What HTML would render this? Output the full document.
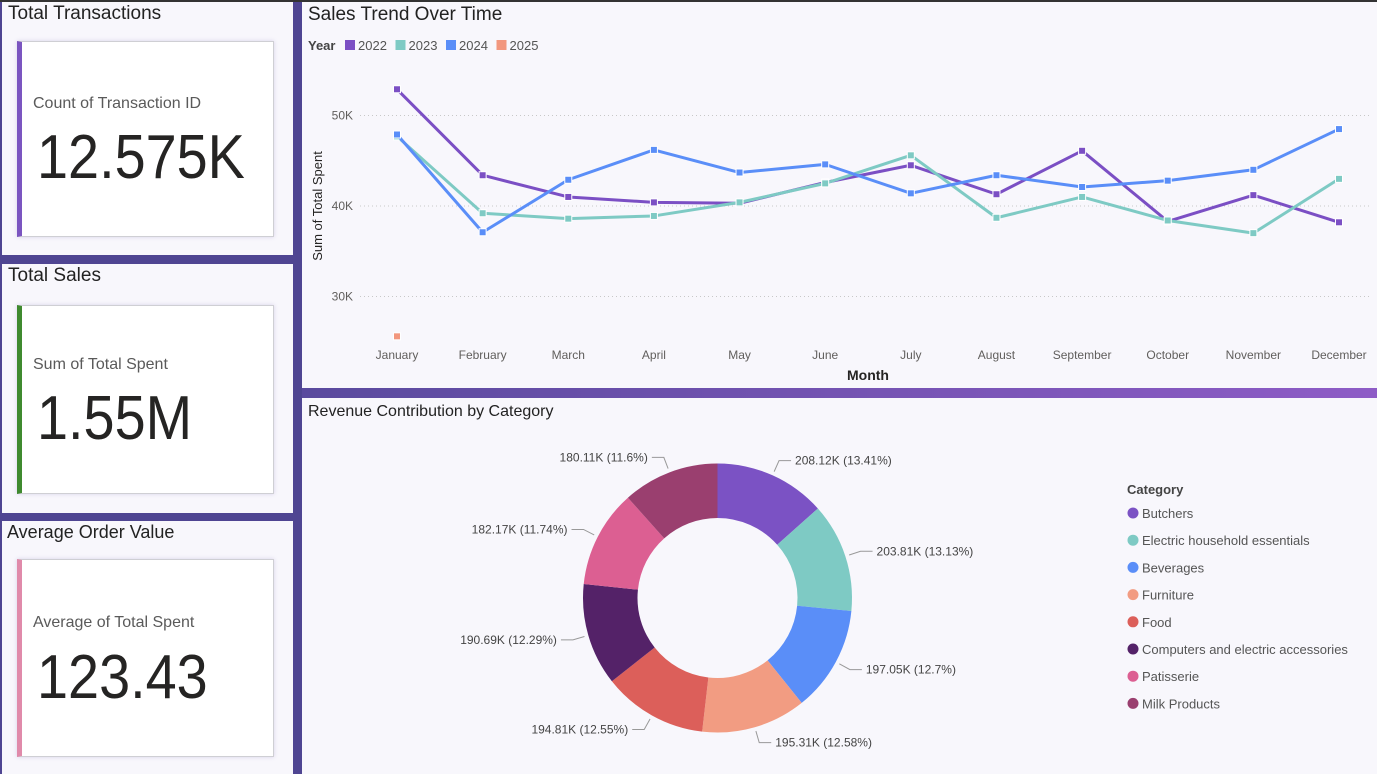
<!DOCTYPE html>
<html><head><meta charset="utf-8"><style>
*{margin:0;padding:0;box-sizing:border-box}
body{width:1377px;height:774px;background:#4f4592;position:relative;overflow:hidden;font-family:"Liberation Sans",sans-serif}
.panel{position:absolute;background:#f8f7fc}
.ptitle{position:absolute;left:7px;top:2px;font-size:19px;color:#222}
.card{position:absolute;left:17px;width:257px;background:#fff;border:1px solid #cfcfd4;box-shadow:0 0 4px rgba(120,100,180,.25)}
.card .lbl{position:absolute;left:15px;font-size:16px;color:#5a5a5a}
.card .val{position:absolute;left:15px;font-size:62px;color:#252423;transform:scaleX(0.9);transform-origin:left top;white-space:nowrap}
</style></head><body>
<div class="panel" style="left:2px;top:2px;width:291px;height:253px">
 <div class="ptitle" style="left:6px;top:1px">Total Transactions</div>
</div>
<div class="card" style="top:41px;height:196px;border-left:5px solid #7b55c0">
 <div class="lbl" style="top:53px;left:11px">Count of Transaction ID</div>
 <div class="val" style="top:80px">12.575K</div>
</div>
<div class="panel" style="left:2px;top:264px;width:291px;height:249px">
 <div class="ptitle" style="left:6px;top:1px">Total Sales</div>
</div>
<div class="card" style="top:305px;height:189px;border-left:5px solid #3f8a2f">
 <div class="lbl" style="top:50px;left:11px">Sum of Total Spent</div>
 <div class="val" style="top:77px">1.55M</div>
</div>
<div class="panel" style="left:2px;top:521px;width:291px;height:253px">
 <div class="ptitle" style="left:5px;top:1px;font-size:18px">Average Order Value</div>
</div>
<div class="card" style="top:559px;height:198px;border-left:5px solid #e08aaa">
 <div class="lbl" style="top:54px;left:11px">Average of Total Spent</div>
 <div class="val" style="top:82px">123.43</div>
</div>
<div class="panel" style="left:302px;top:2px;width:1075px;height:386px"></div>
<div class="panel" style="left:302px;top:388px;width:1075px;height:10px;background:linear-gradient(90deg,#5a4a9e,#8e5cc6)"></div>
<div class="panel" style="left:302px;top:398px;width:1075px;height:376px"></div>
<div style="position:absolute;left:0;top:0;width:1377px;height:2px;background:#333"></div>

<svg id="line" width="1377" height="774" style="position:absolute;left:0;top:0" font-family="Liberation Sans, sans-serif">
 <text x="308" y="20" font-size="19" fill="#222">Sales Trend Over Time</text>
 <text x="308" y="50" font-size="13" font-weight="bold" fill="#444">Year</text>
 <g id="lleg"></g><g id="grid"></g><g id="series"></g>
 <text x="868" y="380" font-size="14" font-weight="bold" fill="#252423" text-anchor="middle">Month</text>
 <text transform="translate(322,206) rotate(-90)" font-size="13" fill="#252423" text-anchor="middle">Sum of Total Spent</text>
</svg>
<svg id="donut" width="1377" height="774" style="position:absolute;left:0;top:0" font-family="Liberation Sans, sans-serif">
 <text x="308" y="416" font-size="16" fill="#222">Revenue Contribution by Category</text>
 <text x="1127" y="494" font-size="13" font-weight="bold" fill="#444">Category</text>
 <g id="slices"></g><g id="dleg"></g>
</svg>
<script>
const months=["January","February","March","April","May","June","July","August","September","October","November","December"];
const years=["2022","2023","2024","2025"];
const s2022=[52.9,43.4,41.0,40.4,40.3,42.6,44.5,41.3,46.1,38.3,41.2,38.2];
const s2023=[47.7,39.2,38.6,38.9,40.4,42.5,45.6,38.7,41.0,38.4,37.0,43.0];
const s2024=[47.9,37.1,42.9,46.2,43.7,44.6,41.4,43.4,42.1,42.8,44.0,48.5];
const s2025=[25.6];
const yTicks=[30,40,50];
const yColors=["#7b4fc4","#7ecac4","#5a8ef8","#f2977e"];
const NS="http://www.w3.org/2000/svg";
function mk(t,a,p){const e=document.createElementNS(NS,t);for(const k in a)e.setAttribute(k,a[k]);p.appendChild(e);return e;}
const xS=i=>397+i*(1339-397)/11;
const yS=v=>206-(v-40)*9.05;
const grid=document.getElementById('grid');
yTicks.forEach(t=>{
 const l=mk('line',{x1:360,x2:1370,y1:yS(t),y2:yS(t),stroke:'#c8c8c8','stroke-dasharray':'1 3'},grid);
 
 
 const tx=mk('text',{x:353,y:yS(t)+4,'font-size':12,fill:'#605e5c','text-anchor':'end'},grid);tx.textContent=t+'K';
 
 
});
months.forEach((m,i)=>{
 const tx=mk('text',{x:xS(i),y:359,'font-size':12,fill:'#605e5c','text-anchor':'middle'},grid);tx.textContent=m;
 
 
});
const lleg=document.getElementById('lleg');
let lx=345;
years.forEach((y,i)=>{
 const r=mk('rect',{x:lx,y:40,width:10,height:10,fill:yColors[i]},lleg);
 
 
 const t=mk('text',{x:lx+13,y:50,'font-size':13,fill:'#555'},lleg);t.textContent=y;
 
 
 lx+=50.5;
});
const ser=document.getElementById('series');
[s2022,s2023,s2024,s2025].forEach((d,si)=>{
 if(d.length>1){
  const p=mk('polyline',{points:d.map((v,i)=>xS(i)+','+yS(v)).join(' '),fill:'none',stroke:yColors[si],'stroke-width':3,'stroke-linejoin':'round'},ser);
  
  
 }
 d.forEach((v,i)=>{
  const r=mk('rect',{x:xS(i)-3.5,y:yS(v)-3.5,width:7,height:7,fill:yColors[si],stroke:'#fff','stroke-width':1},ser);
  
  
 });
});

const categories=["Butchers","Electric household essentials","Beverages","Furniture","Food","Computers and electric accessories","Patisserie","Milk Products"];
const revenue=[208.12,203.81,197.05,195.31,194.81,190.69,182.17,180.11];
const catColors=["#7b52c4","#7ecac4","#5a8ef8","#f29c82","#dc5f5a","#542268","#dc5f92","#9a3f6f"];
const cx=717.5,cy=598,R=134.5,r0=80;
const total=revenue.reduce((a,b)=>a+b,0);
const sl=document.getElementById('slices');
let a0=0;
const pt=(a,rr)=>[cx+rr*Math.sin(a),cy-rr*Math.cos(a)];
revenue.forEach((v,i)=>{
 const a1=a0+v/total*2*Math.PI;
 const [x0,y0]=pt(a0,R),[x1,y1]=pt(a1,R),[x2,y2]=pt(a1,r0),[x3,y3]=pt(a0,r0);
 const lg=(a1-a0)>Math.PI?1:0;
 const p=mk('path',{d:`M${x0},${y0}A${R},${R} 0 ${lg} 1 ${x1},${y1}L${x2},${y2}A${r0},${r0} 0 ${lg} 0 ${x3},${y3}Z`,fill:catColors[i]},sl);
 
 
 const am=(a0+a1)/2;
 const [ax,ay]=pt(am,R+4),[bx,by]=pt(am,R+16);
 const right=Math.sin(am)>=0;
 const ex=bx+(right?12:-12);
 const ln=mk('polyline',{points:`${ax},${ay} ${bx},${by} ${ex},${by}`,fill:'none',stroke:'#999','stroke-width':1},sl);
 
 
 const t=mk('text',{x:ex+(right?4:-4),y:by+4,'font-size':12,fill:'#444','text-anchor':right?'start':'end'},sl);
 t.textContent=v.toFixed(2).replace(/\.?0+$/,'')+'K ('+(v/total*100).toFixed(2).replace(/\.?0+$/,'')+'%)';
 
 
 a0=a1;
});
const dl=document.getElementById('dleg');
categories.forEach((c,i)=>{
 const y=513+i*27.2;
 const ci=mk('circle',{cx:1133,cy:y,r:5.5,fill:catColors[i]},dl);
 
 
 const t=mk('text',{x:1142,y:y+5,'font-size':13,fill:'#555'},dl);t.textContent=c;
 
 
});
</script>
</body></html>
